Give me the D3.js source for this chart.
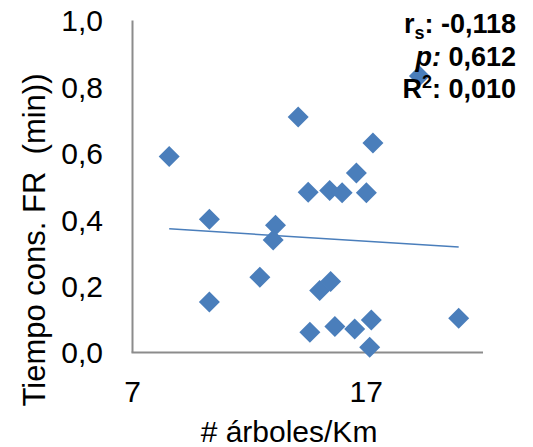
<!DOCTYPE html>
<html>
<head>
<meta charset="utf-8">
<script src="https://cdn.jsdelivr.net/npm/d3@7"></script>
<style>
  body { margin: 0; background: #fff; }
  svg { display: block; font-family: "Liberation Sans", Arial, sans-serif; }
</style>
</head>
<body>
<svg id="chart" width="533" height="447"></svg>
<script>
// données
const arboles = [8.57, 10.29, 10.29, 12.45, 13.12, 13.02, 14.09, 14.52, 14.59, 15.01, 15.48,
                 15.44, 15.97, 15.66, 16.58, 16.51, 17.01, 17.29, 17.22, 17.15, 19.28, 20.96];
const tiempo = [0.590, 0.401, 0.152, 0.227, 0.383, 0.339, 0.709, 0.483, 0.061, 0.187, 0.214,
                0.488, 0.481, 0.078, 0.541, 0.071, 0.481, 0.631, 0.098, 0.016, 0.833, 0.103];
const xTicks = [7, 17];
const yTicks = [0, 0.2, 0.4, 0.6, 0.8, 1.0];
const statLines = [
  {label: "r", sub: "s", value: ": -0,118"},
  {label: "p:", italic: true, value: " 0,612"},
  {label: "R", sup: "2", value: ": 0,010"}
];

const blue = "#4a7ebb";
const fmt = d => d3.format(".1f")(d).replace(".", ",");

const svg = d3.select("#chart");

const x = d3.scaleLinear().domain([7, 22]).range([132.5, 483]);
const y = d3.scaleLinear().domain([0, 1]).range([352.5, 20.5]);

// axes
svg.append("line")
  .attr("x1", x(7)).attr("x2", x(7))
  .attr("y1", y(1)).attr("y2", y(0))
  .attr("stroke", "#8c8c8c").attr("stroke-width", 2);
svg.append("line")
  .attr("x1", x(7) - 1).attr("x2", x(22))
  .attr("y1", y(0)).attr("y2", y(0))
  .attr("stroke", "#8c8c8c").attr("stroke-width", 2);

svg.append("g").selectAll("text")
  .data(yTicks)
  .enter().append("text")
  .attr("x", 103)
  .attr("y", d => y(d))
  .attr("dy", "0.36em")
  .attr("text-anchor", "end")
  .attr("font-size", 30)
  .text(fmt);

svg.append("g").selectAll("text")
  .data(xTicks)
  .enter().append("text")
  .attr("x", d => x(d))
  .attr("y", 402)
  .attr("text-anchor", "middle")
  .attr("font-size", 30)
  .text(d => d);

svg.append("text")
  .attr("x", 289).attr("y", 442)
  .attr("text-anchor", "middle")
  .attr("font-size", 30)
  .text("# árboles/Km");

svg.append("text")
  .attr("transform", "translate(45,240) rotate(-90)")
  .attr("text-anchor", "middle")
  .attr("font-size", 31)
  .attr("xml:space", "preserve")
  .text("Tiempo cons. FR  (min))");

// droite de régression
const n = arboles.length;
const mx = d3.mean(arboles), my = d3.mean(tiempo);
let sxy = 0, sxx = 0;
for (let i = 0; i < n; i++) {
  sxy += (arboles[i] - mx) * (tiempo[i] - my);
  sxx += (arboles[i] - mx) ** 2;
}
const slope = sxy / sxx, icpt = my - slope * mx;
const x0 = d3.min(arboles), x1 = d3.max(arboles);
svg.append("line")
  .attr("x1", x(x0)).attr("y1", y(icpt + slope * x0))
  .attr("x2", x(x1)).attr("y2", y(icpt + slope * x1))
  .attr("stroke", blue).attr("stroke-width", 1.5);

// points
svg.append("g").selectAll("path")
  .data(arboles.map((a, i) => [a, tiempo[i]]))
  .enter().append("path")
  .attr("transform", d => `translate(${x(d[0])},${y(d[1])})`)
  .attr("d", "M0,-10.5L10.5,0L0,10.5L-10.5,0Z")
  .attr("fill", blue);

// statistiques
const stats = svg.append("g")
  .attr("font-size", 27).attr("font-weight", "bold");
statLines.forEach((s, i) => {
  const t = stats.append("text")
    .attr("x", 516).attr("y", 33 + i * 32.6)
    .attr("text-anchor", "end");
  const main = t.append("tspan").text(s.label);
  if (s.italic) main.attr("font-style", "italic");
  if (s.sub) t.append("tspan").attr("font-size", 18).attr("dy", 6).text(s.sub);
  if (s.sup) t.append("tspan").attr("font-size", 18).attr("dy", -10).text(s.sup);
  const v = t.append("tspan").text(s.value);
  if (s.sub) v.attr("dy", -6);
  if (s.sup) v.attr("dy", 10);
});
</script>
</body>
</html>
